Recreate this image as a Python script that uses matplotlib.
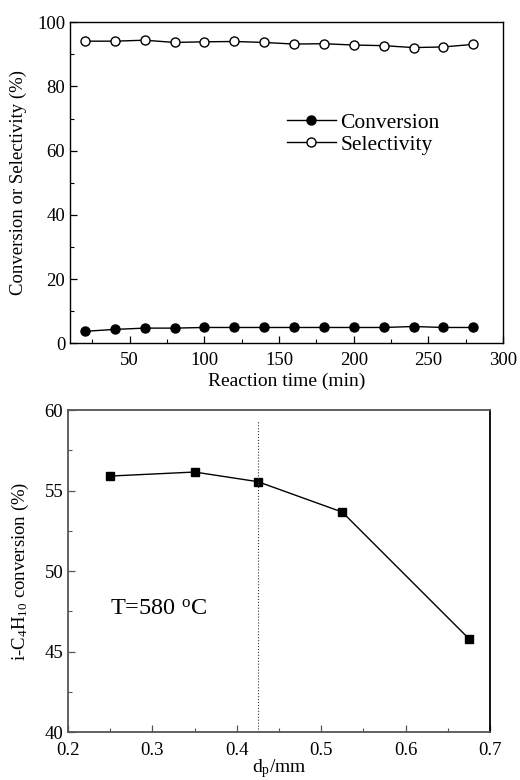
import numpy as np
import matplotlib
matplotlib.use("Agg")
import matplotlib.pyplot as plt
from matplotlib.ticker import MultipleLocator

plt.rcParams['font.family'] = ['Liberation Serif', 'DejaVu Serif']
plt.rcParams['mathtext.fontset'] = 'custom'
plt.rcParams['mathtext.rm'] = 'Liberation Serif'
plt.rcParams['mathtext.it'] = 'Liberation Serif:italic'

# top panel data
time_min = [20, 40, 60, 80, 100, 120, 140, 160, 180, 200, 220, 240, 260, 280]
conversion = [3.7, 4.3, 4.7, 4.7, 4.9, 4.9, 4.9, 4.9, 4.9, 4.9, 4.9, 5.2, 4.9, 4.9]
selectivity = [94.1, 94.1, 94.4, 93.7, 93.9, 94.0, 93.7, 93.2, 93.3, 92.9, 92.7, 92.1, 92.3, 93.1]

# bottom panel data
dp = [0.25, 0.35, 0.425, 0.525, 0.675]
ic4_conv = [55.9, 56.15, 55.55, 53.66, 45.8]
dp_line = 0.425

fig = plt.figure(figsize=(5.2, 7.8), dpi=100)

def style(ax, col='black', lw=1.0, xpad=5):
    ax.tick_params(which='both', direction='in', top=False, right=False, labelsize=13.5)
    ax.tick_params(axis='x', pad=xpad)
    ax.tick_params(which='major', length=5, width=0.9, color=col)
    ax.tick_params(which='minor', length=3, width=0.8, color=col)
    for s in ax.spines.values():
        s.set_linewidth(lw)
    for s in ['left', 'bottom', 'top']:
        ax.spines[s].set_color(col)

ax1 = fig.add_axes([0.1346, 0.560, 0.833, 0.4115])
ax1.plot(time_min, conversion, '-o', color='black', mfc='black', ms=6.5, lw=1.0, label='Conversion')
ax1.plot(time_min, selectivity, '-o', color='black', mfc='white', ms=6.5, lw=1.0, label='Selectivity')
ax1.set_xlim(10, 300)
ax1.set_ylim(0, 100)
ax1.xaxis.set_major_locator(MultipleLocator(50))
ax1.xaxis.set_minor_locator(MultipleLocator(25))
ax1.yaxis.set_major_locator(MultipleLocator(20))
ax1.yaxis.set_minor_locator(MultipleLocator(10))
ax1.set_xticks([50, 100, 150, 200, 250, 300])
ax1.set_xlabel('Reaction time (min)', fontsize=14, labelpad=3)
ax1.set_ylabel('Conversion or Selectivity (%)', fontsize=13.5, labelpad=7)
style(ax1, xpad=6)
ax1.legend(loc='upper left', bbox_to_anchor=(0.48, 0.745), frameon=False, fontsize=15.5,
           handlelength=2.3, handletextpad=0.2, labelspacing=0.1, borderaxespad=0)

ax2 = fig.add_axes([0.1308, 0.0615, 0.8115, 0.4128])
ax2.plot(dp, ic4_conv, '-s', color='black', mfc='black', ms=5.5, lw=1.0)
ax2.plot([dp_line, dp_line], [40, 59.3], ':', color='#333333', lw=0.8)
ax2.set_xlim(0.2, 0.7)
ax2.set_ylim(40, 60)
ax2.xaxis.set_major_locator(MultipleLocator(0.1))
ax2.xaxis.set_minor_locator(MultipleLocator(0.05))
ax2.yaxis.set_major_locator(MultipleLocator(5))
ax2.yaxis.set_minor_locator(MultipleLocator(2.5))
ax2.set_xlabel(r'd$_\mathrm{p}$/mm', fontsize=14, labelpad=-1)
ax2.set_ylabel(r'i-C$_\mathrm{4}$H$_\mathrm{10}$ conversion (%)', fontsize=13.5, labelpad=10)
ax2.text(0.25, 47.6, r'T=580 $^\mathrm{o}$C', fontsize=17.5, va='center', ha='left')
style(ax2, col='#555555', lw=1.3, xpad=7)

fig.savefig('out.png', dpi=100)
